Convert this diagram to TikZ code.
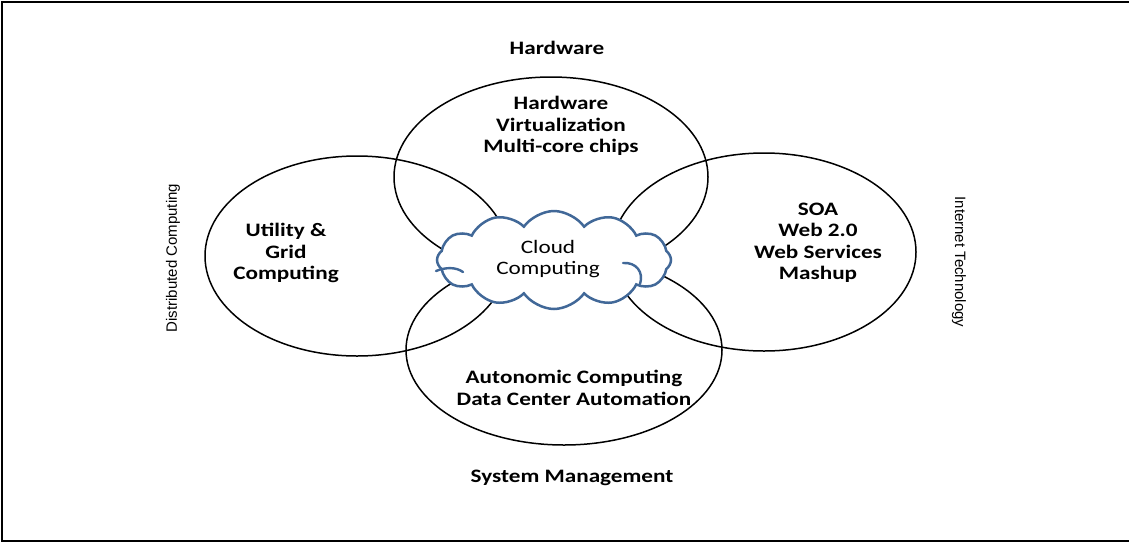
\documentclass[tikz,border=0pt]{standalone}
\usepackage{fontspec}
\setmainfont{Carlito}[FakeStretch=1.22]
\newfontfamily\sidefont{Liberation Sans}
\usetikzlibrary{shapes.geometric,shapes.symbols}
\definecolor{cloudblue}{RGB}{65,104,152}
\begin{document}
\begin{tikzpicture}[x=1pt,y=-1pt,
  ring/.style={ellipse, draw=black, line width=1.5pt, inner sep=0pt},
  lbl/.style={font=\fontsize{19}{21.5}\selectfont\bfseries, align=center, inner sep=0pt},
  cloudtxt/.style={font=\fontsize{19}{21.5}\selectfont, align=center, inner sep=0pt},
  side/.style={font=\sidefont\fontsize{15}{17}\selectfont, inner sep=0pt},
  hook/.style={draw=cloudblue, line width=2.4pt, line cap=round},
  frame/.style={line width=2pt}]
\useasboundingbox (0,0) rectangle (1129,544);

% outer frame (open on the right)
\coordinate (ftr) at (1129,1.5);
\coordinate (ftl) at (2,1.5);
\coordinate (fbl) at (2,541);
\coordinate (fbr) at (1129,541);
\draw[frame] (ftr) -- (ftl) -- (fbl) -- (fbr);

% four overlapping areas
\node[ring, minimum width=304pt, minimum height=200pt] (grid) at (357,256) {};
\node[ring, minimum width=314pt, minimum height=200pt] (hw) at (551,177) {};
\node[ring, minimum width=304pt, minimum height=198pt] (web) at (764,252) {};
\node[ring, minimum width=316pt, minimum height=190pt] (sys) at (564,350) {};

% cloud in the middle
\node[cloud, cloud puffs=12, cloud puff arc=110, aspect=2.36,
      draw=cloudblue, fill=white, line width=2.5pt,
      minimum width=234pt, minimum height=98pt, inner sep=0pt] (cloud) at (554,260) {};
% inner curls of the cloud outline
\draw[hook] (623,263) .. controls (636,262) and (644,272) .. (640,284);
\draw[hook] (436,271) .. controls (446,267) and (456,267) .. (463,272);

\node[cloudtxt] (cloudlbl) at (548,259) {Cloud\\Computing};

% texts inside the areas
\node[lbl] (hwtxt) at (561,126) {Hardware\\Virtualization\\Multi-core chips};
\node[lbl] (gridtxt) at (286,253) {Utility \&\\Grid\\Computing};
\node[lbl] (webtxt) at (818,243) {SOA\\Web 2.0\\Web Services\\Mashup};
\node[lbl] (systxt) at (574,388) {Autonomic Computing\\Data Center Automation};

% area titles
\node[lbl] (hwtitle) at (557,48) {Hardware};
\node[lbl] (systitle) at (572,478) {System Management};
\node[side, rotate=90] (dctitle) at (173,258) {Distributed Computing};
\node[side, rotate=-90] (ittitle) at (959,262) {Internet Technology};
\end{tikzpicture}
\end{document}
